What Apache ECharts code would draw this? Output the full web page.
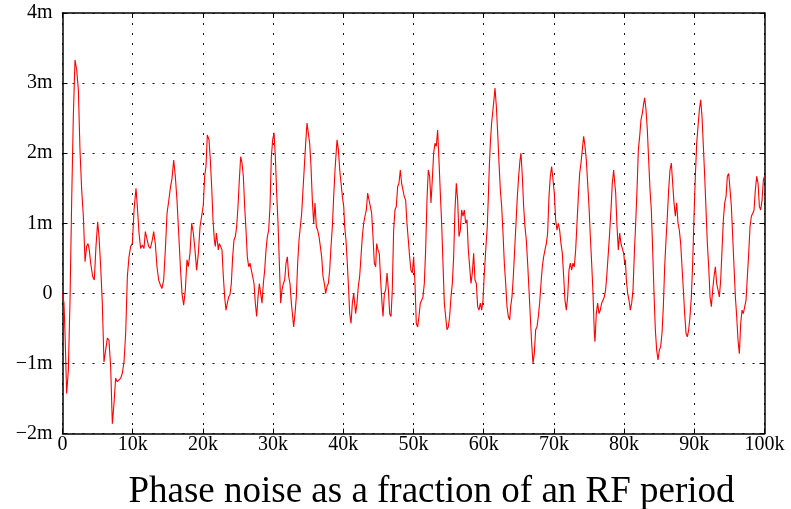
<!DOCTYPE html>
<html>
<head>
<meta charset="utf-8">
<script src="https://cdn.jsdelivr.net/npm/echarts@6/dist/echarts.min.js"></script>
<style>
html,body{margin:0;padding:0;background:#fff;}
#chart{width:791px;height:509px;}
</style>
</head>
<body>
<div id="chart"></div>
<script>
// x in thousands (k), y in milli (m)
const xTicks = [0,10,20,30,40,50,60,70,80,90,100];
const yTicks = [-2,-1,0,1,2,3,4];
const titleText = 'Phase noise as a fraction of an RF period';

const xs = [
0,0.21,0.36,0.59,0.83,1.07,1.31,1.54,1.78,2.02,2.26,2.49,2.73,2.97,3.21,3.44,3.63,3.82,4.01,4.30,4.53,4.77,5.01,5.20,5.44,5.67,5.91,6.15,6.39,6.62,6.86,7.10,7.34,7.57,7.81,8.05,8.29,8.52,8.76,9.00,9.24,9.47,9.71,9.95,
10.19,10.47,10.66,10.90,11.13,11.37,11.61,11.80,12.04,12.27,12.51,12.75,12.99,13.22,13.46,13.70,13.94,14.17,14.41,14.65,14.89,15.12,15.36,15.60,15.84,16.07,16.31,16.55,16.79,17.02,17.26,17.50,17.73,17.92,18.16,18.40,18.64,18.87,19.11,19.35,19.59,19.82,20.06,20.25,
20.44,20.63,20.87,21.06,21.25,21.44,21.63,21.77,21.92,22.06,22.20,22.34,22.53,22.72,22.91,23.10,23.29,23.48,23.67,23.86,24.05,24.24,24.43,24.62,24.81,25.00,25.19,25.38,25.57,25.76,25.95,26.14,26.33,26.52,26.71,26.90,27.09,27.28,27.47,27.66,27.85,28.04,28.23,28.42,28.61,28.80,28.99,29.18,29.37,29.56,29.75,29.94,
30.13,30.32,30.51,30.70,30.89,31.08,31.27,31.46,31.65,31.84,32.03,32.22,32.41,32.60,32.79,32.93,33.12,33.31,33.50,33.69,33.88,34.07,34.26,34.45,34.64,34.83,35.02,35.21,35.40,35.59,35.78,35.97,36.16,36.35,36.54,36.73,36.92,37.11,37.30,37.49,37.68,37.87,38.06,38.25,38.44,38.63,38.82,39.01,39.11,39.30,39.49,39.68,39.87,40.06,40.20,
40.38,40.57,40.76,40.91,41.10,41.29,41.48,41.62,41.76,41.95,42.14,42.33,42.52,42.71,42.90,43.09,43.28,43.47,43.66,43.85,44.04,44.23,44.42,44.61,44.75,44.94,45.13,45.32,45.51,45.66,45.85,46.04,46.23,46.42,46.61,46.80,46.98,47.17,47.36,47.55,47.74,47.93,48.12,48.31,48.50,48.69,48.88,49.07,49.26,49.45,49.64,49.83,
50.02,50.21,50.40,50.59,50.78,50.97,51.16,51.35,51.54,51.73,51.92,52.11,52.30,52.49,52.68,52.87,53.06,53.25,53.44,53.63,53.82,54.01,54.20,54.39,54.58,54.77,54.96,55.15,55.34,55.53,55.72,55.91,56.10,56.29,56.48,56.67,56.86,57.05,57.24,57.43,57.62,57.81,58.00,58.19,58.38,58.57,58.76,58.95,59.14,59.33,59.52,59.71,59.90,60.09,
60.18,60.32,60.51,60.66,60.80,60.94,61.13,61.32,61.46,61.61,61.80,61.99,62.18,62.37,62.56,62.75,62.94,63.13,63.32,63.51,63.70,63.84,64.03,64.22,64.41,64.60,64.79,64.98,65.17,65.31,65.50,65.69,65.88,66.07,66.26,66.45,66.64,66.83,67.02,67.21,67.40,67.59,67.78,67.97,68.16,68.35,68.54,68.73,68.92,69.11,69.30,69.49,69.68,69.87,
70.06,70.25,70.44,70.63,70.82,71.01,71.20,71.39,71.58,71.77,71.96,72.15,72.34,72.53,72.72,72.91,73.10,73.29,73.48,73.67,73.86,74.05,74.24,74.43,74.62,74.81,75.00,75.19,75.38,75.57,75.76,75.85,76.04,76.23,76.42,76.61,76.80,76.99,77.18,77.37,77.56,77.75,77.94,78.13,78.32,78.51,78.61,78.80,78.99,79.18,79.37,79.56,79.75,79.94,80.08,
80.18,80.32,80.51,80.70,80.89,81.08,81.27,81.46,81.65,81.84,82.03,82.22,82.41,82.60,82.79,82.93,83.12,83.31,83.50,83.69,83.88,84.07,84.26,84.45,84.64,84.83,85.02,85.21,85.40,85.59,85.78,85.97,86.16,86.35,86.54,86.73,86.92,87.11,87.30,87.49,87.68,87.87,88.06,88.25,88.44,88.63,88.82,89.01,89.20,89.39,89.58,89.77,89.96,
90.15,90.34,90.53,90.72,90.91,91.10,91.29,91.48,91.67,91.86,92.05,92.24,92.43,92.62,92.81,93.00,93.19,93.38,93.57,93.76,93.95,94.14,94.33,94.52,94.71,94.90,95.09,95.28,95.47,95.66,95.85,96.04,96.23,96.42,96.61,96.80,96.99,97.18,97.37,97.56,97.75,97.94,98.13,98.32,98.51,98.70,98.89,99.08,99.27,99.46,99.65,99.84,100
];

const ys = [
0,-0.14,-0.57,-1.43,-1.10,-0.10,1.33,2.52,3.33,3.19,2.90,2.05,1.48,1.10,0.45,0.67,0.71,0.62,0.43,0.24,0.19,0.67,1.02,0.81,0.38,-0.14,-0.98,-0.81,-0.64,-0.67,-1.05,-1.86,-1.57,-1.21,-1.26,-1.26,-1.21,-1.14,-0.98,-0.57,0.24,0.52,0.67,0.71,
1.19,1.50,1.24,0.86,0.64,0.69,0.64,0.88,0.88,0.67,0.64,0.74,0.88,0.71,0.38,0.19,0.12,0.07,0.19,0.62,1.14,1.31,1.50,1.64,1.90,1.67,1.33,0.86,0.38,0,-0.17,0.05,0.48,0.38,0.57,1.00,0.86,0.62,0.33,0.57,0.95,1.10,1.26,1.67,
1.81,2.26,2.19,1.90,1.52,1.05,0.76,0.67,0.86,0.74,0.62,0.71,0.67,0.62,0.24,-0.05,-0.24,-0.14,-0.05,-0.02,0.14,0.52,0.76,0.81,0.95,1.24,1.62,1.95,1.86,1.67,1.24,0.90,0.52,0.38,0.43,0.33,0.24,0.14,-0.14,-0.33,-0.05,0.14,0,-0.14,0.14,0.33,0.62,0.81,0.90,1.24,1.95,2.19,
2.29,1.95,1.43,1.00,0.43,-0.14,0.05,0.14,0.19,0.43,0.52,0.24,0.14,-0.14,-0.33,-0.48,-0.29,-0.05,0.43,0.76,0.95,1.14,1.48,1.81,2.14,2.43,2.45,2.14,1.81,1.33,1.00,1.29,0.95,0.90,0.81,0.67,0.52,0.24,0.14,0,0.10,0.14,0.33,0.67,0.95,1.38,1.76,2.05,2.19,2.05,1.76,1.57,1.38,1.24,0.95,
0.76,0.43,0.05,-0.29,-0.43,-0.14,0,-0.14,-0.29,-0.14,0.10,0.24,0.52,0.81,1.00,1.10,1.19,1.43,1.45,1.24,1.14,0.81,0.43,0.38,0.71,0.62,0.57,0.19,-0.14,-0.33,0,0.05,0.29,0.05,-0.29,-0.33,0.05,0.90,1.19,1.24,1.52,1.57,1.76,1.57,1.57,1.38,1.33,1.00,0.76,0.52,0.33,0.29,
0.52,0.14,-0.43,-0.48,-0.33,-0.14,-0.10,-0.05,0.14,0.62,1.33,1.76,1.67,1.29,1.62,2.00,2.14,2.10,2.33,1.90,1.43,1.00,0.43,-0.14,-0.33,-0.52,-0.48,-0.33,-0.05,0.14,0.52,1.19,1.57,1.33,0.81,0.90,1.19,1.10,1.19,1.00,1.05,0.62,0.38,0.14,0.29,0.57,0.19,0.14,-0.19,-0.24,-0.14,-0.24,-0.10,0.29,
0.43,0.67,0.95,1.38,1.81,2.14,2.43,2.62,2.76,2.93,2.67,2.29,1.86,1.48,1.24,0.86,0.43,0.14,-0.19,-0.33,-0.38,-0.19,-0.05,0.24,0.62,1.00,1.38,1.67,1.90,2.00,1.67,1.24,0.95,0.76,0.43,0.05,-0.33,-0.71,-1.00,-0.86,-0.52,-0.48,-0.33,-0.14,0.14,0.38,0.52,0.62,0.71,0.86,1.38,1.67,1.81,1.62,
1.43,1.05,0.90,1.00,0.90,0.71,0.57,0.24,-0.10,-0.24,-0.05,0.33,0.43,0.33,0.43,0.38,0.62,1.00,1.38,1.71,1.86,2.05,2.24,2.10,1.90,1.57,1.24,0.81,0.43,0,-0.57,-0.69,-0.29,-0.14,-0.29,-0.24,-0.14,-0.10,-0.05,0.05,0.29,0.57,0.86,1.19,1.57,1.76,1.76,1.43,0.95,0.62,0.86,0.71,0.71,0.57,0.43,
0.48,0.19,0,-0.10,-0.24,-0.14,0.05,0.57,1.00,1.48,2.05,2.24,2.48,2.57,2.71,2.79,2.62,2.33,1.90,1.48,1.19,0.62,0,-0.52,-0.81,-0.95,-0.81,-0.76,-0.57,-0.19,0.38,0.76,1.10,1.48,1.76,1.86,1.57,1.29,1.10,1.29,1.00,0.90,0.71,0.38,0.05,-0.29,-0.57,-0.62,-0.52,-0.33,-0.05,0.43,1.10,
1.67,2.14,2.38,2.62,2.76,2.52,2.10,1.67,1.19,0.71,0.38,-0.05,-0.19,0.05,0.24,0.38,0.14,0.05,-0.05,0.19,0.62,1.05,1.29,1.38,1.67,1.71,1.48,1.24,0.81,0.38,-0.05,-0.33,-0.67,-0.86,-0.43,-0.24,-0.29,-0.19,-0.10,0.24,0.57,0.95,1.10,1.14,1.19,1.48,1.67,1.57,1.24,1.19,1.33,1.62,1.67
];

const seriesData = xs.map((x, i) => [x, ys[i]]);

const FONT = '"Liberation Serif", "Times New Roman", serif';
const gridDots = { show: true, lineStyle: { color: '#111', width: 1, type: [2, 8] } };

const chart = echarts.init(document.getElementById('chart'), null, { renderer: 'canvas' });
chart.setOption({
  animation: false,
  backgroundColor: '#ffffff',
  grid: { left: 62.5, right: 26.5, top: 13, bottom: 75.5, containLabel: false },
  xAxis: [{
    type: 'value', min: xTicks[0], max: xTicks[xTicks.length - 1], interval: 10,
    axisLine: { show: true, onZero: false, lineStyle: { color: '#000', width: 1.5 } },
    axisTick: { show: true, inside: true, length: 5, lineStyle: { color: '#000', width: 1 } },
    axisLabel: { color: '#000', fontFamily: FONT, fontSize: 20, margin: 1,
      formatter: v => v === 0 ? '0' : v + 'k' },
    splitLine: gridDots
  }, {
    type: 'value', position: 'top', min: xTicks[0], max: xTicks[xTicks.length - 1], interval: 10,
    axisLine: { show: true, onZero: false, lineStyle: { color: '#000', width: 1.5 } },
    axisTick: { show: true, inside: true, length: 5, lineStyle: { color: '#000', width: 1 } },
    axisLabel: { show: false }, splitLine: { show: false }
  }],
  yAxis: [{
    type: 'value', min: yTicks[0], max: yTicks[yTicks.length - 1], interval: 1,
    axisLine: { show: true, onZero: false, lineStyle: { color: '#000', width: 1.5 } },
    axisTick: { show: true, inside: true, length: 5, lineStyle: { color: '#000', width: 1 } },
    axisLabel: { color: '#000', fontFamily: FONT, fontSize: 20, margin: 10,
      formatter: v => v === 0 ? '0' : (v < 0 ? '\u2212' + (-v) : v) + 'm' },
    splitLine: gridDots
  }, {
    type: 'value', position: 'right', min: yTicks[0], max: yTicks[yTicks.length - 1], interval: 1,
    axisLine: { show: true, onZero: false, lineStyle: { color: '#000', width: 1.5 } },
    axisTick: { show: true, inside: true, length: 5, lineStyle: { color: '#000', width: 1 } },
    axisLabel: { show: false }, splitLine: { show: false }
  }],
  graphic: [{
    type: 'text', x: 431.5, y: 492,
    style: { text: titleText, fontFamily: FONT, fontSize: 37, fill: '#000',
      align: 'center', verticalAlign: 'middle' }
  }],
  series: [{
    type: 'line', xAxisIndex: 0, yAxisIndex: 0, data: seriesData,
    showSymbol: false, symbol: 'none',
    lineStyle: { color: '#ff0000', width: 1.1 }
  }]
});
</script>
</body>
</html>
